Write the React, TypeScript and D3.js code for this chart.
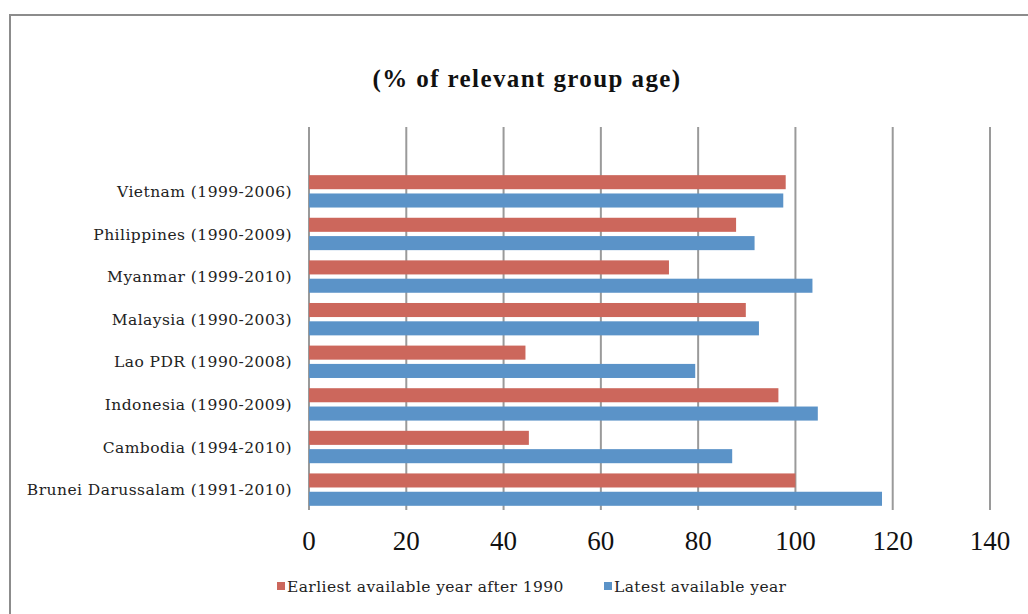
import React from "react";
import * as d3 from "d3";

const categories = [
  "Brunei Darussalam (1991-2010)",
  "Cambodia (1994-2010)",
  "Indonesia (1990-2009)",
  "Lao PDR (1990-2008)",
  "Malaysia (1990-2003)",
  "Myanmar (1999-2010)",
  "Philippines (1990-2009)",
  "Vietnam (1999-2006)",
];
const earliest = [100.0, 45.2, 96.5, 44.5, 89.8, 74.0, 87.8, 98.0];
const latest = [117.8, 87.0, 104.6, 79.4, 92.5, 103.5, 91.6, 97.5];
const xTicks = [0, 20, 40, 60, 80, 100, 120, 140];
const seriesNames = ["Earliest available year after 1990", "Latest available year"];
const title = "(% of relevant group age)";

const W = 1028;
const H = 614;
const RED = "#CC675C";
const BLUE = "#5B93C8";
const GRID = "#9a9a9a";

export default function App() {
  const x = d3.scaleLinear().domain([0, 140]).range([309, 990]);
  const domain = ["__empty__", ...categories.slice().reverse()];
  const y = d3.scaleBand<string>().domain(domain).range([127, 510.5]).padding(0);
  const bw = y.bandwidth();
  const barH = bw * 0.33;
  const offRed = bw * 0.13;
  const offBlue = offRed + barH + bw * 0.1;

  return (
    <div style={{ position: "fixed", left: 0, top: 0 }}>
      <svg width={W} height={H} style={{ display: "block", background: "#fff" }}>
        <rect x={10} y={15} width={W + 20} height={H + 20} fill="#fff" stroke="#8c8c8c" strokeWidth={2} />
        <text
          x={527}
          y={87}
          textAnchor="middle"
          fontFamily="'Liberation Serif', serif"
          fontWeight="bold"
          fontSize={25}
          letterSpacing={1.4}
          fill="#111"
        >
          {title}
        </text>
        {xTicks.map((t) => (
          <g key={t}>
            <line x1={x(t)} x2={x(t)} y1={127} y2={510} stroke={GRID} strokeWidth={2} />
            <text
              x={x(t)}
              y={550}
              textAnchor="middle"
              fontFamily="'Liberation Serif', serif"
              fontSize={27}
              fill="#111"
            >
              {t}
            </text>
          </g>
        ))}
        {categories.map((c, i) => {
          const y0 = y(c) as number;
          return (
            <g key={c}>
              <rect x={x(0)} y={y0 + offRed} width={x(earliest[i]) - x(0)} height={barH} fill={RED} />
              <rect x={x(0)} y={y0 + offBlue} width={x(latest[i]) - x(0)} height={barH} fill={BLUE} />
              <text
                x={292}
                y={y0 + bw / 2 + 2}
                textAnchor="end"
                dominantBaseline="middle"
                fontFamily="'DejaVu Serif', serif"
                fontSize={15.5}
                letterSpacing={0.45}
                fill="#222"
              >
                {c}
              </text>
            </g>
          );
        })}
        <g fontFamily="'DejaVu Serif', serif" fontSize={15.5} letterSpacing={0.4} fill="#222">
          <rect x={277} y={582} width={8} height={8} fill={RED} />
          <text x={287} y={592}>{seriesNames[0]}</text>
          <rect x={604} y={582} width={8} height={8} fill={BLUE} />
          <text x={614} y={592}>{seriesNames[1]}</text>
        </g>
      </svg>
    </div>
  );
}
